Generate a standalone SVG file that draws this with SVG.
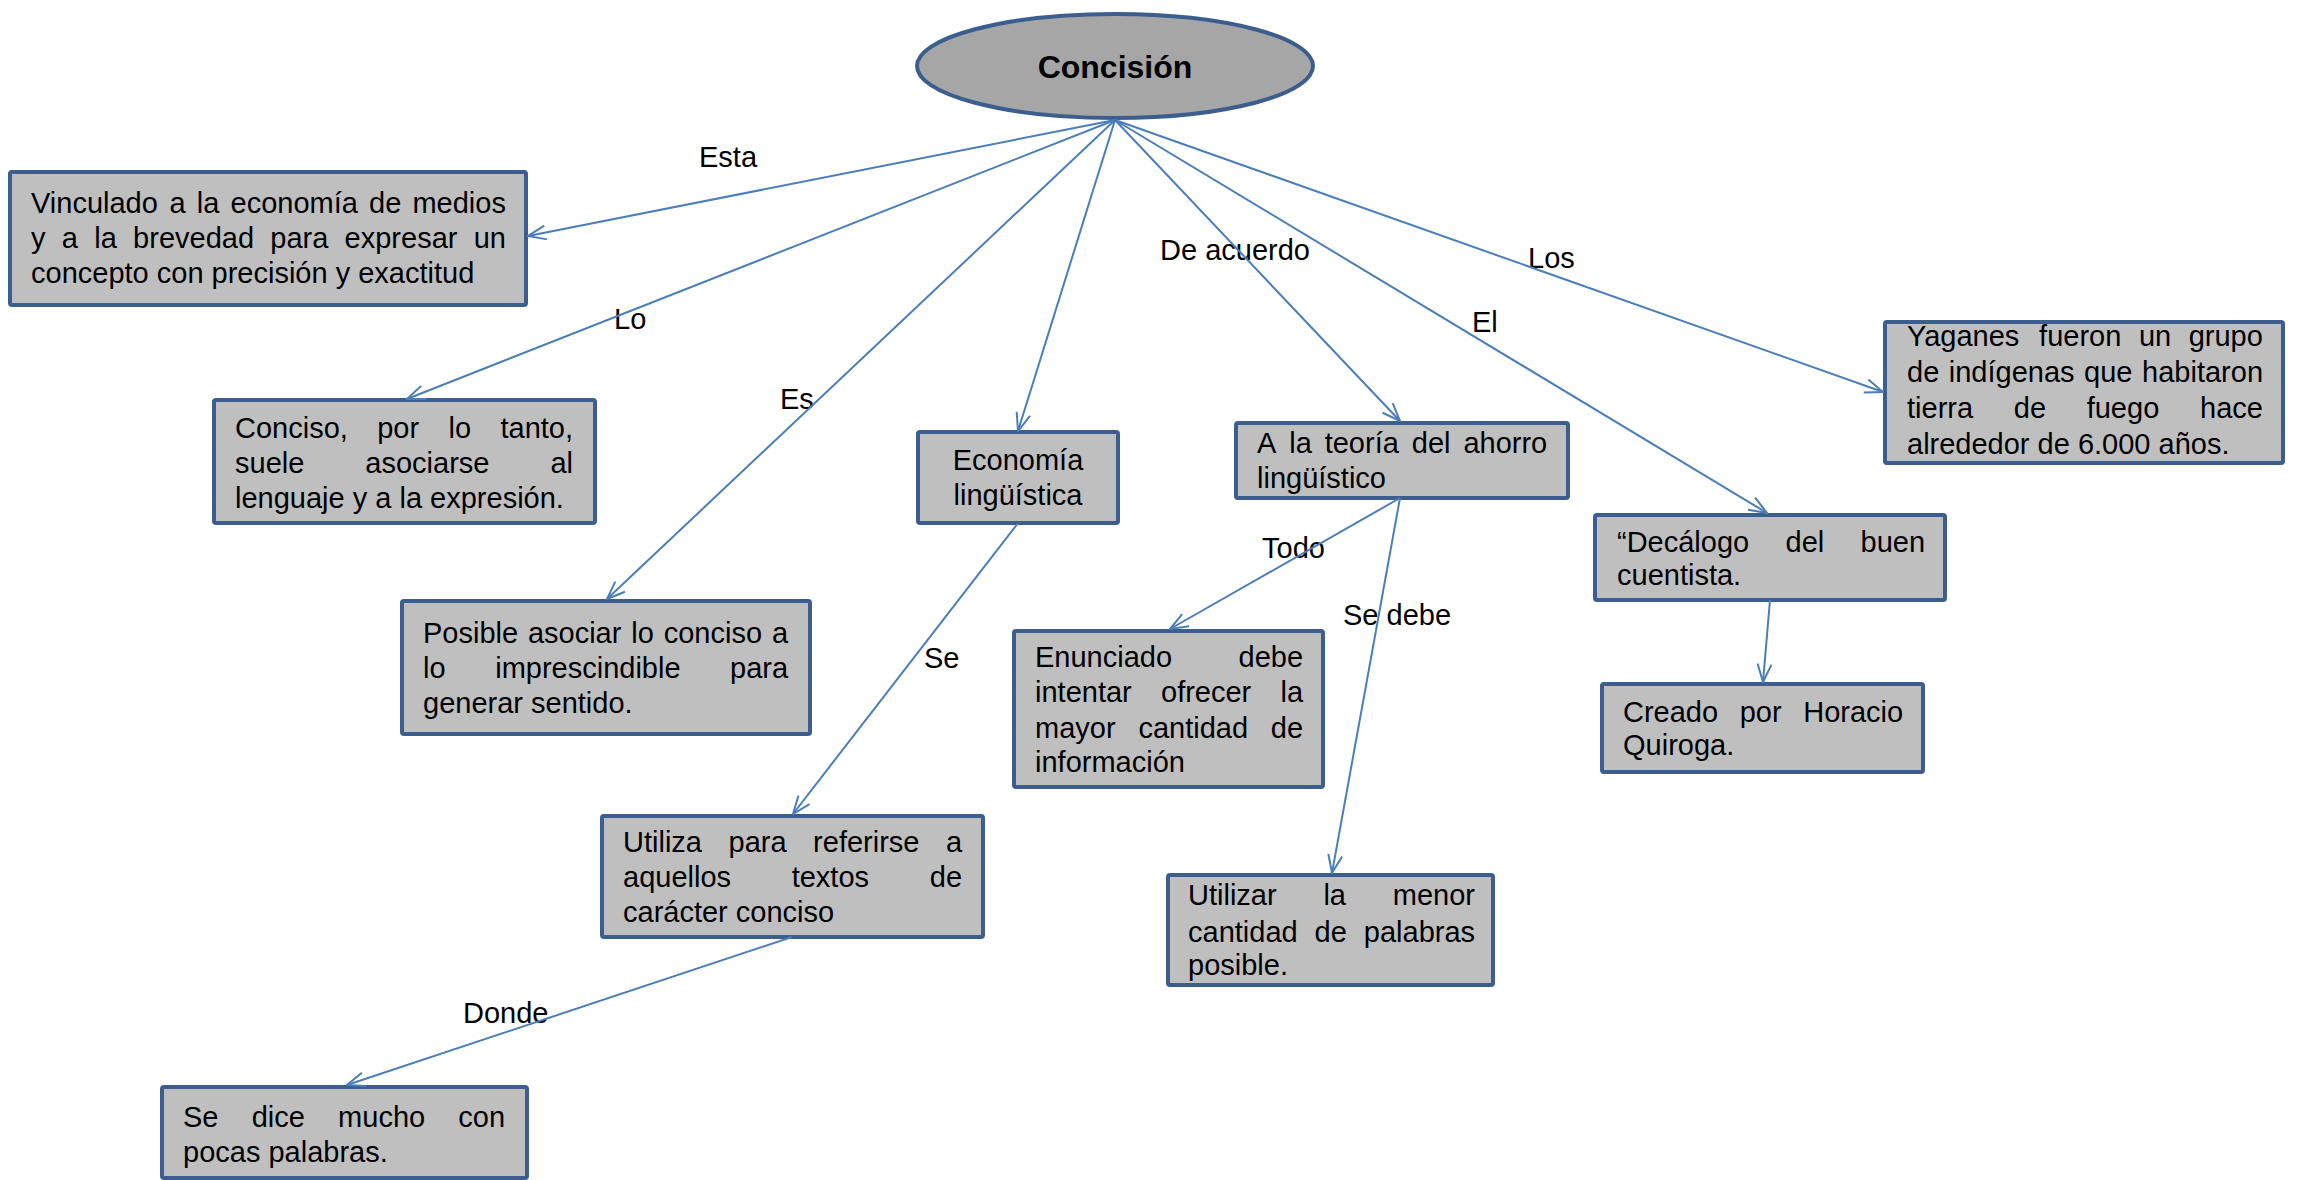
<svg xmlns="http://www.w3.org/2000/svg" width="2308" height="1180" viewBox="0 0 2308 1180">
<style>
.box{fill:#bfbfbf;stroke:#3b5e8f;stroke-width:4}
.ell{fill:#a6a6a6;stroke:#3b5e8f;stroke-width:4}
.t{font-family:"Liberation Sans",Arial,sans-serif;font-size:29px;fill:#000}
.tb{font-family:"Liberation Sans",Arial,sans-serif;font-size:32px;font-weight:bold;fill:#000}
.c{stroke:#4a7ebb;stroke-width:2;fill:none;marker-end:url(#arr)}
</style>
<defs>
<marker id="arr" markerUnits="userSpaceOnUse" viewBox="0 0 20 16" refX="19" refY="8" markerWidth="20" markerHeight="16" orient="auto">
<path d="M1,1 L19,8 L1,15" fill="none" stroke="#4a7ebb" stroke-width="2"/>
</marker>
</defs>
<rect width="2308" height="1180" fill="#fff"/>
<g id="n-concision">
<ellipse class="ell" cx="1115" cy="66" rx="198" ry="52"/>
<text class="tb" x="1115" y="78" text-anchor="middle">Concisión</text>
</g>
<g id="n-vinculado">
<rect class="box" x="10" y="172" width="516" height="133" rx="2"/>
<text class="t" y="213"><tspan x="31">Vinculado</tspan><tspan x="169.4">a</tspan><tspan x="196.7">la</tspan><tspan x="230.5">economía</tspan><tspan x="369">de</tspan><tspan x="412.4">medios</tspan></text>
<text class="t" y="248"><tspan x="31">y</tspan><tspan x="61.8">a</tspan><tspan x="94.2">la</tspan><tspan x="133.1">brevedad</tspan><tspan x="270.3">para</tspan><tspan x="344.6">expresar</tspan><tspan x="473.7">un</tspan></text>
<text class="t" x="31" y="283">concepto con precisión y exactitud</text>
</g>
<g id="n-conciso">
<rect class="box" x="214" y="400" width="381" height="123" rx="2"/>
<text class="t" y="438"><tspan x="235">Conciso,</tspan><tspan x="377.2">por</tspan><tspan x="448.5">lo</tspan><tspan x="500.5">tanto,</tspan></text>
<text class="t" y="473"><tspan x="235">suele</tspan><tspan x="365.3">asociarse</tspan><tspan x="550.4">al</tspan></text>
<text class="t" x="235" y="508">lenguaje y a la expresión.</text>
</g>
<g id="n-posible">
<rect class="box" x="402" y="601" width="408" height="133" rx="2"/>
<text class="t" y="643"><tspan x="423">Posible</tspan><tspan x="527.9">asociar</tspan><tspan x="631.3">lo</tspan><tspan x="663.7">conciso</tspan><tspan x="771.9">a</tspan></text>
<text class="t" y="678"><tspan x="423">lo</tspan><tspan x="495.2">imprescindible</tspan><tspan x="730.1">para</tspan></text>
<text class="t" x="423" y="713">generar sentido.</text>
</g>
<g id="n-economia">
<rect class="box" x="918" y="432" width="200" height="91" rx="2"/>
<text class="t" x="1018" y="470" text-anchor="middle">Economía</text>
<text class="t" x="1018" y="505" text-anchor="middle">lingüística</text>
</g>
<g id="n-teoria">
<rect class="box" x="1236" y="423" width="332" height="75" rx="2"/>
<text class="t" y="453"><tspan x="1257">A</tspan><tspan x="1289.2">la</tspan><tspan x="1324.7">teoría</tspan><tspan x="1411.8">del</tspan><tspan x="1463.4">ahorro</tspan></text>
<text class="t" x="1257" y="488">lingüístico</text>
</g>
<g id="n-decalogo">
<rect class="box" x="1595" y="515" width="350" height="85" rx="2"/>
<text class="t" y="552"><tspan x="1617">“Decálogo</tspan><tspan x="1785.5">del</tspan><tspan x="1860.5">buen</tspan></text>
<text class="t" x="1617" y="585">cuentista.</text>
</g>
<g id="n-creado">
<rect class="box" x="1602" y="684" width="321" height="88" rx="2"/>
<text class="t" y="722"><tspan x="1623">Creado</tspan><tspan x="1739.7">por</tspan><tspan x="1803.2">Horacio</tspan></text>
<text class="t" x="1623" y="755">Quiroga.</text>
</g>
<g id="n-yaganes">
<rect class="box" x="1885" y="322" width="398" height="141" rx="2"/>
<text class="t" y="346"><tspan x="1907">Yaganes</tspan><tspan x="2039.1">fueron</tspan><tspan x="2138.9">un</tspan><tspan x="2188.7">grupo</tspan></text>
<text class="t" y="382"><tspan x="1907">de</tspan><tspan x="1948.8">indígenas</tspan><tspan x="2084.1">que</tspan><tspan x="2142.1">habitaron</tspan></text>
<text class="t" y="418"><tspan x="1907">tierra</tspan><tspan x="2013.8">de</tspan><tspan x="2086.7">fuego</tspan><tspan x="2200">hace</tspan></text>
<text class="t" x="1907" y="454">alrededor de 6.000 años.</text>
</g>
<g id="n-utiliza">
<rect class="box" x="602" y="816" width="381" height="121" rx="2"/>
<text class="t" y="852"><tspan x="623">Utiliza</tspan><tspan x="728.5">para</tspan><tspan x="813.1">referirse</tspan><tspan x="946">a</tspan></text>
<text class="t" y="887"><tspan x="623">aquellos</tspan><tspan x="791.7">textos</tspan><tspan x="929.8">de</tspan></text>
<text class="t" x="623" y="922">carácter conciso</text>
</g>
<g id="n-sedice">
<rect class="box" x="162" y="1087" width="365" height="91" rx="2"/>
<text class="t" y="1127"><tspan x="183">Se</tspan><tspan x="251.7">dice</tspan><tspan x="338.1">mucho</tspan><tspan x="458.3">con</tspan></text>
<text class="t" x="183" y="1162">pocas palabras.</text>
</g>
<g id="n-enunciado">
<rect class="box" x="1014" y="631" width="309" height="156" rx="2"/>
<text class="t" y="667"><tspan x="1035">Enunciado</tspan><tspan x="1238.5">debe</tspan></text>
<text class="t" y="702"><tspan x="1035">intentar</tspan><tspan x="1161">ofrecer</tspan><tspan x="1280.5">la</tspan></text>
<text class="t" y="738"><tspan x="1035">mayor</tspan><tspan x="1138.4">cantidad</tspan><tspan x="1270.8">de</tspan></text>
<text class="t" x="1035" y="772">información</text>
</g>
<g id="n-utilizar">
<rect class="box" x="1168" y="875" width="325" height="110" rx="2"/>
<text class="t" y="905"><tspan x="1188">Utilizar</tspan><tspan x="1323.4">la</tspan><tspan x="1392.8">menor</tspan></text>
<text class="t" y="942"><tspan x="1188">cantidad</tspan><tspan x="1314.6">de</tspan><tspan x="1363.8">palabras</tspan></text>
<text class="t" x="1188" y="975">posible.</text>
</g>
<g id="connectors">
<text class="t" x="699" y="167">Esta</text>
<text class="t" x="614" y="329">Lo</text>
<text class="t" x="780" y="409">Es</text>
<text class="t" x="1160" y="260">De acuerdo</text>
<text class="t" x="1472" y="332">El</text>
<text class="t" x="1528" y="268">Los</text>
<text class="t" x="924" y="668">Se</text>
<text class="t" x="1262" y="558">Todo</text>
<text class="t" x="1343" y="625">Se debe</text>
<text class="t" x="463" y="1023">Donde</text>
<path class="c" d="M1115,120 L528,236"/>
<path class="c" d="M1115,120 L407,399"/>
<path class="c" d="M1115,120 L607,599"/>
<path class="c" d="M1115,120 L1018,431"/>
<path class="c" d="M1115,120 L1400,421"/>
<path class="c" d="M1115,120 L1767,513"/>
<path class="c" d="M1115,120 L1883,392"/>
<path class="c" d="M1018,523 L793,814"/>
<path class="c" d="M1400,498 L1170,629"/>
<path class="c" d="M1400,498 L1332,873"/>
<path class="c" d="M792,937 L347,1085"/>
<path class="c" d="M1770,600 L1763,682"/>
</g>
</svg>
